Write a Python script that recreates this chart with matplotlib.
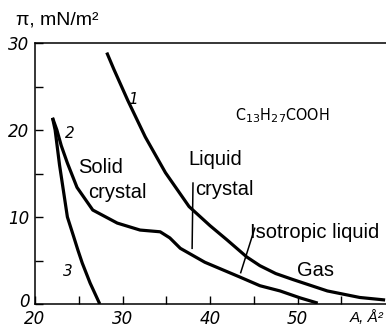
import matplotlib
matplotlib.use("Agg")
import matplotlib.pyplot as plt
import matplotlib.transforms as mtransforms

# Surface pressure isotherms, pi (mN/m^2) versus area per molecule A (Å^2)
curve1_area = [28.2, 29.0, 30.6, 32.6, 34.9, 37.6, 40.0, 41.9, 44.2, 45.7, 47.5, 49.5, 53.4, 57.1, 60.0]
curve1_pi = [28.9, 27.0, 23.4, 19.2, 15.1, 11.2, 9.0, 7.4, 5.4, 4.4, 3.5, 2.8, 1.5, 0.75, 0.46]

curve2_area = [22.0, 22.5, 23.0, 23.7, 24.8, 26.6, 29.4, 32.0, 34.3, 35.4, 36.6, 39.4, 43.4, 45.7, 48.0, 50.3, 52.3]
curve2_pi = [21.4, 20.0, 18.2, 16.2, 13.4, 10.8, 9.3, 8.5, 8.3, 7.6, 6.4, 4.8, 3.1, 2.1, 1.5, 0.7, 0.1]

curve3_area = [22.0, 22.3, 22.8, 23.4, 23.7, 24.4, 24.9, 25.4, 26.3, 27.4]
curve3_pi = [21.4, 20.0, 16.0, 12.0, 10.0, 7.8, 6.2, 4.7, 2.4, 0.0]

x_ticklabels = ["20", "30", "40", "50"]
y_ticklabels = ["0", "10", "20", "30"]

fig = plt.figure(figsize=(3.86, 3.28), dpi=100)
ax = fig.add_axes([35 / 386, 1 - 304 / 328, 351 / 386, 261 / 328])

lw = 2.3
for a, p in [(curve1_area, curve1_pi), (curve2_area, curve2_pi), (curve3_area, curve3_pi)]:
    ax.plot(a, p, color="black", lw=lw, solid_joinstyle="round", solid_capstyle="butt")

ax.set_xlim(20, 60.1)
ax.set_ylim(0, 30)
ax.set_xticks([20, 30, 40, 50])
ax.set_xticks([25, 35, 45, 55], minor=True)
ax.set_yticks([0, 10, 20, 30])
ax.set_yticks([5, 15, 25], minor=True)
ax.set_xticklabels(x_ticklabels, fontstyle="italic", fontsize=12)
ax.set_yticklabels(y_ticklabels, fontstyle="italic", fontsize=12)
ax.tick_params(which="both", direction="in", length=6, width=1, color="black")
ax.tick_params(axis="x", pad=4)
ax.tick_params(axis="y", pad=4)
for side in ["left", "bottom", "top"]:
    ax.spines[side].set_linewidth(1.1)
ax.spines["right"].set_visible(False)

# lift the zero label a little so it clears the first x label
zero_label = ax.get_yticklabels()[0]
zero_label.set_transform(zero_label.get_transform()
                         + mtransforms.ScaledTranslation(0, 4 / 100, fig.dpi_scale_trans))

txt = dict(color="black", family="Liberation Sans")
fig.text(16 / 386, 1 - 20 / 328, "π, mN/m²", fontsize=14, va="center", ha="left", **txt)
fig.text(384 / 386, 1 - 318 / 328, "A, Å²", fontsize=11, va="center", ha="right",
         fontstyle="italic", **txt)

# curve numbers
ax.text(31.2, 23.5, "1", fontsize=11, fontstyle="italic", ha="center", va="center")
ax.text(24.0, 19.6, "2", fontsize=11, fontstyle="italic", ha="center", va="center")
ax.text(23.8, 3.7, "3", fontsize=11, fontstyle="italic", ha="center", va="center")

ax.text(48.3, 21.7, "C$_{13}$H$_{27}$COOH", fontsize=11.5, ha="center", va="center",
        family="DejaVu Sans", fontstretch="condensed")

# phase labels
ax.text(27.5, 15.7, "Solid", fontsize=14.5, ha="center", va="center", **txt)
ax.text(29.4, 12.8, "crystal", fontsize=14.5, ha="center", va="center", **txt)
ax.text(40.6, 16.6, "Liquid", fontsize=14.5, ha="center", va="center", **txt)
ax.text(38.3, 13.2, "crystal", fontsize=14.5, ha="left", va="center", **txt)
ax.plot([38.05, 37.95], [13.9, 6.4], color="black", lw=1.1)
ax.text(52.0, 8.2, "Isotropic liquid", fontsize=14.5, ha="center", va="center", **txt)
ax.plot([45.1, 43.5], [8.7, 3.6], color="black", lw=1.1)
ax.text(52.1, 3.9, "Gas", fontsize=14.5, ha="center", va="center", **txt)

fig.savefig("out.png", dpi=100)
